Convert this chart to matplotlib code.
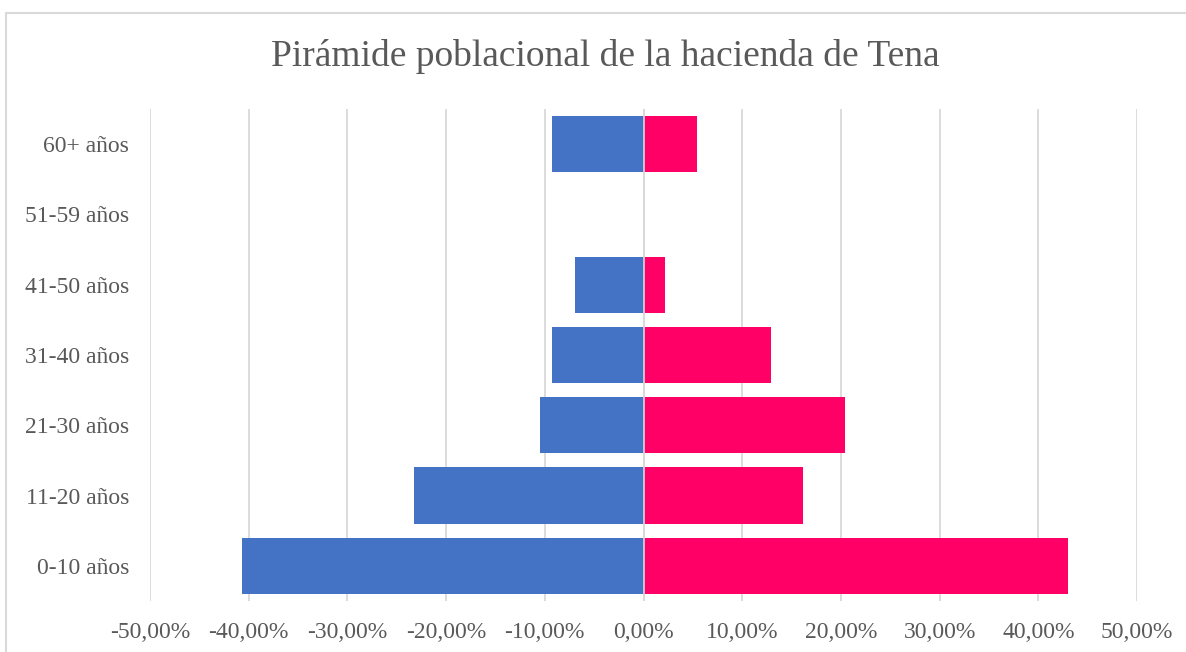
import numpy as np
import matplotlib
matplotlib.use("Agg")
from matplotlib import pyplot as plt
from matplotlib.ticker import FuncFormatter
from matplotlib.patches import Rectangle

#Datos (porcentajes)
edades = ["0-10 años", "11-20 años", "21-30 años", "31-40 años", "41-50 años", "51-59 años", "60+ años"]
hombres = [40.70, 23.26, 10.47, 9.30, 6.98, 0.0, 9.30]
mujeres = [43.01, 16.13, 20.43, 12.90, 2.15, 0.0, 5.38]

W, H = 1186, 652
plt.rcParams['font.family'] = ['Liberation Serif', 'DejaVu Serif']
fig = plt.figure(figsize=(W/100, H/100), dpi=100)

#Borde del grafico
fig.patches.append(Rectangle((6/W, -0.1), 1.2, 1-13/H+0.1, transform=fig.transFigure,
                             fill=False, edgecolor='#d9d9d9', lw=1.5))

ax = fig.add_axes([150/W, (H-601)/H, (1137-150)/W, (601-109)/H])
y = np.arange(len(edades))
ax.barh(y, [-v for v in hombres], height=0.8, color='#4472C4', zorder=2)
ax.barh(y, mujeres, height=0.8, color='#FF0066', zorder=2)
ax.axvline(0, color='#d9d9d9', lw=1.2, zorder=3)

ax.set_xlim(-50, 50)
ax.set_ylim(-0.5, len(edades)-0.5)
ax.set_xticks(np.arange(-50, 51, 10))
ax.xaxis.set_major_formatter(FuncFormatter(lambda v, p: ("%.2f%%" % v).replace(".", ",")))
ax.set_yticks(y)
ax.set_yticklabels(edades)
ax.grid(axis='x', color='#d9d9d9', lw=1.3, zorder=0)
ax.set_axisbelow(True)
for s in ax.spines.values():
    s.set_visible(False)
ax.tick_params(axis='both', length=0, labelsize=17, labelcolor='#595959')
ax.tick_params(axis='x', pad=15)
ax.tick_params(axis='y', pad=15)

fig.text(605/W, 1-57/H, "Pirámide poblacional de la hacienda de Tena", ha='center', va='center',
         fontsize=27, color='#595959')

fig.savefig("out.png", dpi=100)
